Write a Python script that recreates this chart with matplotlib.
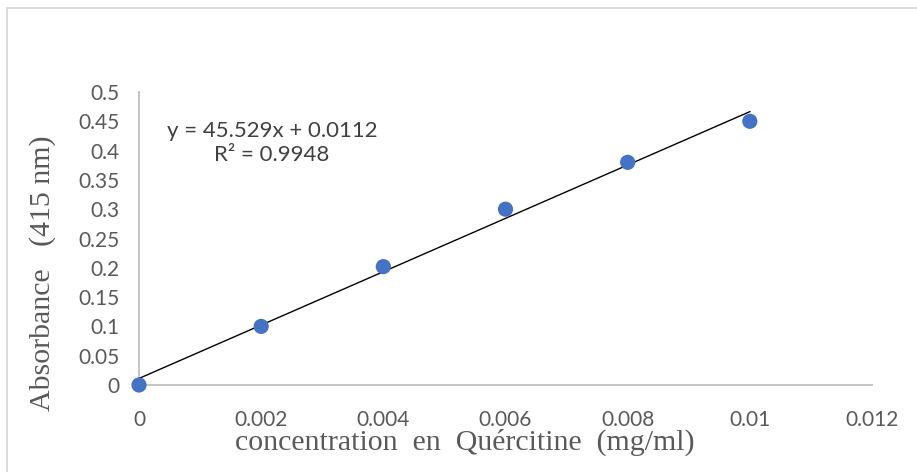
import matplotlib
matplotlib.use("Agg")
import matplotlib.pyplot as plt
from matplotlib.patches import Rectangle
import numpy as np

# Calibration data: quercetin concentration vs absorbance at 415 nm
concentration = [0.0, 0.002, 0.004, 0.006, 0.008, 0.010]
absorbance = [0.0, 0.100, 0.202, 0.300, 0.380, 0.450]

# Linear trendline parameters
slope = 45.529
intercept = 0.0112
r_squared = 0.9948

x_ticks = [0, 0.002, 0.004, 0.006, 0.008, 0.01, 0.012]
x_tick_labels = ["0", "0.002", "0.004", "0.006", "0.008", "0.01", "0.012"]
y_ticks = [0, 0.05, 0.1, 0.15, 0.2, 0.25, 0.3, 0.35, 0.4, 0.45, 0.5]
y_tick_labels = ["0", "0.05", "0.1", "0.15", "0.2", "0.25", "0.3", "0.35", "0.4", "0.45", "0.5"]

tick_color = "#595959"
axis_color = "#BFBFBF"
point_color = "#4472C4"

fig = plt.figure(figsize=(9.17, 4.72), dpi=100)
fig.patch.set_facecolor("white")

# Chart frame
fig.patches.append(Rectangle((7 / 917, -0.05), 1.2, 1 - 8 / 472 + 0.05,
                             transform=fig.transFigure, fill=False,
                             edgecolor="#D9D9D9", linewidth=1.3))

ax = fig.add_axes([139 / 917, 1 - 385 / 472, (872 - 139) / 917, (385 - 92) / 472])
ax.set_xlim(0, 0.012)
ax.set_ylim(0, 0.5)

for side in ("top", "right"):
    ax.spines[side].set_visible(False)
for side in ("left", "bottom"):
    ax.spines[side].set_color(axis_color)
    ax.spines[side].set_linewidth(1.3)

ax.set_xticks(x_ticks)
ax.set_xticklabels(x_tick_labels)
ax.set_yticks(y_ticks)
ax.set_yticklabels(y_tick_labels)
ax.tick_params(axis="both", length=0, colors=tick_color, labelsize=15)
ax.tick_params(axis="x", pad=18)
ax.tick_params(axis="y", pad=14)
for lbl in ax.get_xticklabels() + ax.get_yticklabels():
    lbl.set_fontfamily("Lato")

# Trendline
xs = np.array([concentration[0], concentration[-1]])
ax.plot(xs, slope * xs + intercept, color="black", linewidth=1.0, zorder=3,
        clip_on=False)

# Data points
ax.scatter(concentration, absorbance, s=120, color=point_color, zorder=4,
           clip_on=False, edgecolors="none")

# Equation and R²
ax.text(0.00218, 0.4334, f"y = {slope}x + {intercept}", fontsize=16,
        fontfamily="Lato", color="#404040", ha="center", va="center")
ax.text(0.00218, 0.3925, f"R² = {r_squared}", fontsize=16,
        fontfamily="Lato", color="#404040", ha="center", va="center")

ax.set_xlabel("concentration  en  Quércitine  (mg/ml)", fontsize=21.5,
              fontfamily="Liberation Serif", color="#595959")
ax.xaxis.set_label_coords(0.445, -0.195)
ax.xaxis.label.set_va("center")
ax.set_ylabel("Absorbance   (415 nm)", fontsize=21.5,
              fontfamily="Liberation Serif", color="#595959")
ax.yaxis.set_label_coords(-0.132, 0.382)
ax.yaxis.label.set_va("center")

fig.savefig("out.png", dpi=100, facecolor="white")
